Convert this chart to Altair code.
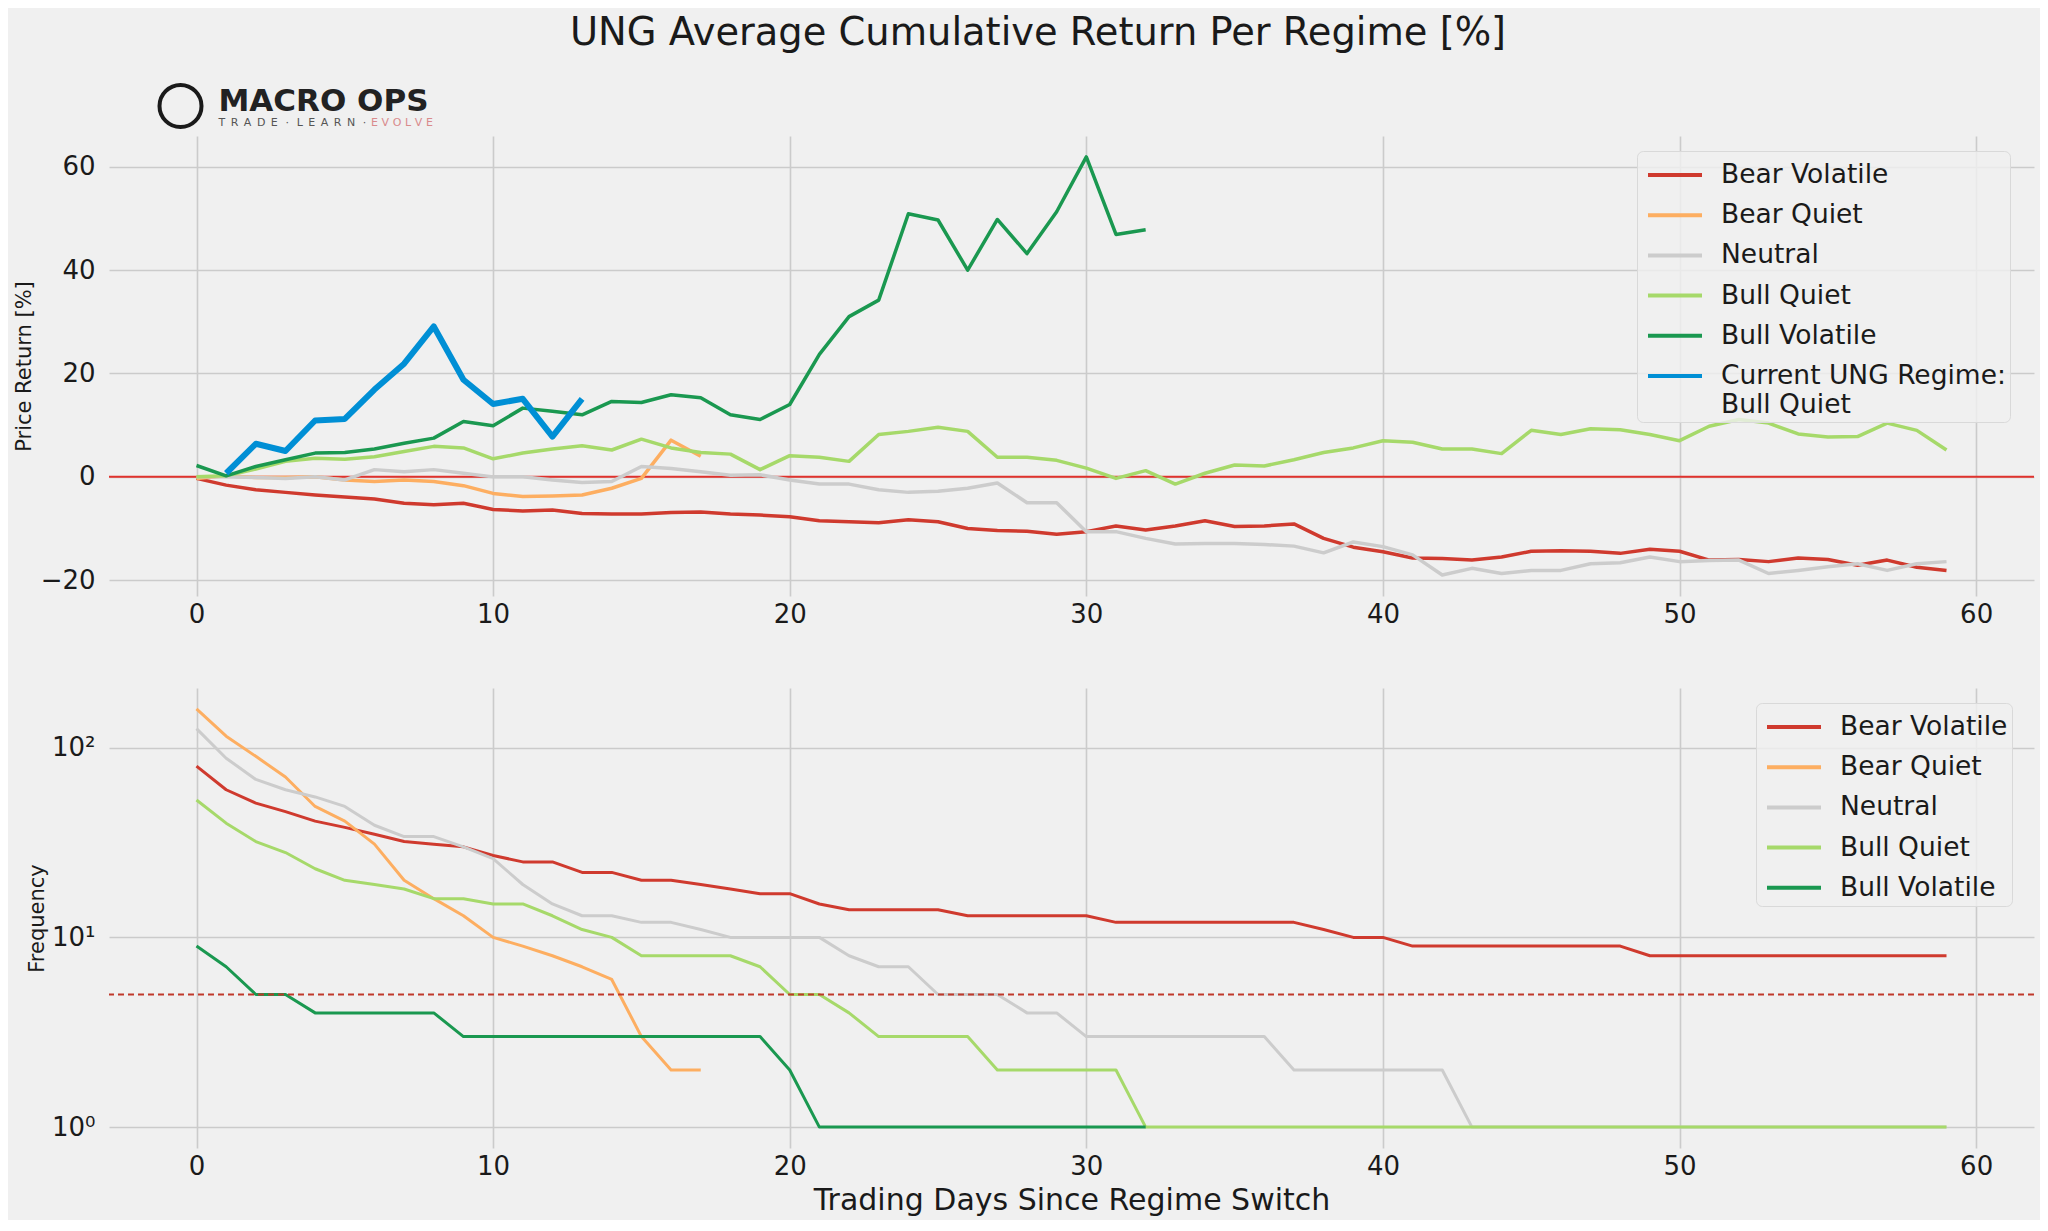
import altair as alt
import pandas as pd

# ---------------- data ----------------
REGIMES = ["Bear Volatile", "Bear Quiet", "Neutral", "Bull Quiet", "Bull Volatile"]
CURRENT = "Current UNG Regime: Bull Quiet"
REGIME_COLORS = ["#cf3a2e", "#fdae61", "#cccccc", "#a6d96a", "#1a9850"]
CURRENT_COLOR = "#008fd5"

x_ticks = [0, 10, 20, 30, 40, 50, 60]
ret_ticks = [-20, 0, 20, 40, 60]
freq_ticks = [1, 10, 100]

bear_vol_ret = [-0.3, -1.6, -2.5, -3.0, -3.5, -3.9, -4.3, -5.1, -5.4, -5.1,
                -6.3, -6.6, -6.4, -7.1, -7.2, -7.2, -6.9, -6.8, -7.2, -7.4,
                -7.7, -8.5, -8.7, -8.9, -8.3, -8.7, -10.0, -10.4, -10.5, -11.1,
                -10.6, -9.5, -10.3, -9.5, -8.5, -9.6, -9.5, -9.1, -11.9, -13.6,
                -14.5, -15.7, -15.8, -16.1, -15.5, -14.4, -14.3, -14.4, -14.8, -14.0,
                -14.4, -16.1, -16.0, -16.4, -15.7, -16.0, -17.1, -16.1, -17.5, -18.1]
bear_quiet_ret = [-0.3, 0.2, -0.1, -0.1, 0.0, -0.6, -0.9, -0.6, -0.9, -1.7,
                  -3.2, -3.8, -3.7, -3.5, -2.2, -0.3, 7.1, 4.0]
neutral_ret = [0.0, 0.0, -0.1, -0.3, 0.0, -0.6, 1.4, 1.0, 1.4, 0.7,
               0.0, 0.0, -0.6, -1.1, -0.9, 2.0, 1.6, 1.0, 0.3, 0.4,
               -0.6, -1.4, -1.4, -2.5, -3.0, -2.8, -2.2, -1.2, -5.0, -5.0,
               -10.6, -10.6, -11.9, -13.0, -12.9, -12.9, -13.1, -13.4, -14.7, -12.6,
               -13.5, -15.1, -19.0, -17.7, -18.7, -18.1, -18.1, -16.8, -16.6, -15.5,
               -16.4, -16.2, -16.1, -18.7, -18.1, -17.4, -16.8, -18.1, -16.8, -16.4]
bull_quiet_ret = [0.0, 0.2, 1.5, 3.0, 3.6, 3.4, 3.9, 4.9, 5.9, 5.6,
                  3.5, 4.6, 5.4, 6.0, 5.2, 7.3, 5.6, 4.7, 4.4, 1.4,
                  4.1, 3.8, 3.0, 8.2, 8.8, 9.6, 8.8, 3.8, 3.8, 3.2,
                  1.7, -0.3, 1.2, -1.4, 0.7, 2.3, 2.1, 3.3, 4.7, 5.6,
                  7.0, 6.7, 5.4, 5.4, 4.5, 9.0, 8.2, 9.3, 9.1, 8.2,
                  7.0, 9.8, 11.1, 10.4, 8.3, 7.7, 7.8, 10.4, 9.0, 5.2]
bull_vol_ret = [2.2, 0.2, 2.0, 3.3, 4.6, 4.7, 5.4, 6.5, 7.5, 10.7,
                9.9, 13.3, 12.7, 12.0, 14.6, 14.4, 15.9, 15.3, 12.0, 11.1,
                14.0, 23.7, 31.0, 34.2, 50.9, 49.7, 40.0, 49.8, 43.2, 51.3,
                61.9, 46.9, 47.8]
current_days = list(range(1, 14))
current_ret = [0.7, 6.4, 5.0, 10.9, 11.2, 16.9, 21.9, 29.1, 18.8, 14.1, 15.1, 7.8, 15.1]

bear_vol_freq = [80, 60, 51, 46, 41, 38, 35, 32, 31, 30,
                 27, 25, 25, 22, 22, 20, 20, 19, 18, 17,
                 17, 15, 14, 14, 14, 14, 13, 13, 13, 13,
                 13, 12, 12, 12, 12, 12, 12, 12, 11, 10,
                 10, 9, 9, 9, 9, 9, 9, 9, 9, 8,
                 8, 8, 8, 8, 8, 8, 8, 8, 8, 8]
bear_quiet_freq = [160, 115, 90, 70, 49, 41, 31, 20, 16, 13, 10, 9, 8, 7, 6, 3, 2, 2]
neutral_freq = [126, 88, 68, 60, 55, 49, 39, 34, 34, 30,
                26, 19, 15, 13, 13, 12, 12, 11, 10, 10,
                10, 10, 8, 7, 7, 5, 5, 5, 4, 4,
                3, 3, 3, 3, 3, 3, 3, 2, 2, 2,
                2, 2, 2, 1, 1, 1, 1, 1, 1, 1,
                1, 1, 1, 1, 1, 1, 1, 1, 1, 1]
bull_quiet_freq = [53, 40, 32, 28, 23, 20, 19, 18, 16, 16,
                   15, 15, 13, 11, 10, 8, 8, 8, 8, 7,
                   5, 5, 4, 3, 3, 3, 3, 2, 2, 2,
                   2, 2, 1, 1, 1, 1, 1, 1, 1, 1,
                   1, 1, 1, 1, 1, 1, 1, 1, 1, 1,
                   1, 1, 1, 1, 1, 1, 1, 1, 1, 1]
bull_vol_freq = [9, 7, 5, 5, 4, 4, 4, 4, 4, 3,
                 3, 3, 3, 3, 3, 3, 3, 3, 3, 3,
                 2, 1, 1, 1, 1, 1, 1, 1, 1, 1,
                 1, 1, 1]

ret_series = [bear_vol_ret, bear_quiet_ret, neutral_ret, bull_quiet_ret, bull_vol_ret]
freq_series = [bear_vol_freq, bear_quiet_freq, neutral_freq, bull_quiet_freq, bull_vol_freq]


def long_table(series_list):
    rows = []
    for order, (name, vals) in enumerate(zip(REGIMES, series_list)):
        for d, v in enumerate(vals):
            rows.append({"day": d, "value": v, "series": name, "order": order})
    return pd.DataFrame(rows)


ret_df = long_table(ret_series)
freq_df = long_table(freq_series)
cur_df = pd.DataFrame({"day": current_days, "value": current_ret, "series": CURRENT})

# ---------------- styling ----------------
FONT = "DejaVu Sans"
BG = "#f0f0f0"
W, H = 1925, 460
EN = "\u2002"
TH = "\u2009"
T3 = "\u2004"
TAG_LEFT = EN.join("TRADE") + EN + TH + "·" + TH + EN + EN.join("LEARN") + EN + TH + "·"
TAG_RIGHT = T3.join("EVOLVE")

legend_common = dict(
    orient="none", title=None, labelFont=FONT, labelFontSize=26.5, labelColor="#1a1a1a",
    symbolType="M-1.5,0H1.5", symbolSize=1296, symbolStrokeWidth=4,
    padding=4, symbolOffset=14, labelOffset=26, rowPadding=6.2, labelLimit=600,
    fillColor="rgba(240,240,240,0.8)", strokeColor="#d9d9d9", cornerRadius=6,
)

x_scale = alt.Scale(domain=[-2.95, 61.95], nice=False, zero=False)

# ---------------- top panel ----------------
x_top = alt.X("day:Q", scale=x_scale,
              axis=alt.Axis(values=x_ticks, title=None, labelPadding=5))
y_top = alt.Y("value:Q", scale=alt.Scale(domain=[-23.05, 65.95], nice=False, zero=False),
              axis=alt.Axis(values=ret_ticks, title="Price Return [%]", labelPadding=14,
                            titleX=-85, titleY=H / 2, titleAngle=270, titleBaseline="middle",
                            titleFontSize=21, titleFontWeight="normal"))
color_top = alt.Color(
    "series:N",
    scale=alt.Scale(domain=REGIMES + [CURRENT], range=REGIME_COLORS + [CURRENT_COLOR]),
    legend=alt.Legend(
        legendX=1528, legendY=15,
        labelExpr="datum.label == 'Current UNG Regime: Bull Quiet' ? ['Current UNG Regime:', 'Bull Quiet'] : datum.label",
        **legend_common),
)

zero_rule = alt.Chart(pd.DataFrame({"value": [0]})).mark_rule(
    color="#e0322d", strokeWidth=2).encode(y=alt.Y("value:Q"))

ret_lines = alt.Chart(ret_df).mark_line(strokeWidth=3.5, strokeJoin="round").encode(
    x=x_top, y=y_top, color=color_top, order="day:Q")

cur_line = alt.Chart(cur_df).mark_line(strokeWidth=6, strokeJoin="round").encode(
    x=x_top, y=y_top, color=color_top)

logo_ring = alt.Chart(pd.DataFrame({"k": [0]})).mark_point(
    shape="circle", filled=False, size=1764, stroke="#1a1a1a", strokeWidth=4, opacity=1
).encode(x=alt.value(71.5), y=alt.value(-30))
logo_name = alt.Chart(pd.DataFrame({"t": ["MACRO OPS"]})).mark_text(
    font=FONT, fontSize=31, fontWeight="bold", align="left", baseline="alphabetic", color="#222222"
).encode(text="t:N", x=alt.value(109.5), y=alt.value(-25))
logo_tag = alt.Chart(pd.DataFrame({"t": [TAG_LEFT]})).mark_text(
    font=FONT, fontSize=11, align="left", baseline="alphabetic", color="#555555"
).encode(text="t:N", x=alt.value(109.5), y=alt.value(-10))
logo_evolve = alt.Chart(pd.DataFrame({"t": [TAG_RIGHT]})).mark_text(
    font=FONT, fontSize=11, align="left", baseline="alphabetic", color="#d98a8c"
).encode(text="t:N", x=alt.value(262), y=alt.value(-10))

top = alt.layer(zero_rule, ret_lines, cur_line, logo_ring, logo_name, logo_tag, logo_evolve).properties(
    width=W, height=H)

# ---------------- bottom panel ----------------
x_bot = alt.X("day:Q", scale=x_scale,
              axis=alt.Axis(values=x_ticks, title="Trading Days Since Regime Switch",
                            labelPadding=5, titlePadding=6, titleFontSize=30,
                            titleFontWeight="normal"))
y_bot = alt.Y("value:Q", scale=alt.Scale(type="log", domain=[0.776, 206.3], nice=False),
              axis=alt.Axis(values=freq_ticks, title="Frequency", labelPadding=14,
                            labelExpr="datum.value == 1 ? '10⁰' : (datum.value == 10 ? '10¹' : '10²')",
                            titleX=-72, titleY=H / 2, titleAngle=270, titleBaseline="middle",
                            titleFontSize=21, titleFontWeight="normal"))
color_bot = alt.Color(
    "series:N",
    scale=alt.Scale(domain=REGIMES, range=REGIME_COLORS),
    legend=alt.Legend(legendX=1647, legendY=15, **legend_common),
)

freq_lines = alt.Chart(freq_df).mark_line(strokeWidth=3, strokeJoin="round").encode(
    x=x_bot, y=y_bot, color=color_bot, order="day:Q")

five_rule = alt.Chart(pd.DataFrame({"value": [5]})).mark_rule(
    color="#c0392b", strokeWidth=1.8, strokeDash=[6, 4]).encode(y=alt.Y("value:Q"))

bottom = alt.layer(freq_lines, five_rule).properties(width=W, height=H)

chart = alt.vconcat(
    top, bottom, spacing=61,
    title=alt.TitleParams("UNG Average Cumulative Return Per Regime [%]", font=FONT, fontSize=38.4,
                          fontWeight="normal", color="#1a1a1a", anchor="middle", offset=24, dx=14),
).resolve_scale(color="independent").configure(
    background=BG, font=FONT,
).configure_view(stroke=None).configure_axis(
    gridColor="#cbcbcb", gridWidth=1.6, domain=False, ticks=False,
    labelFont=FONT, labelFontSize=26, labelColor="#1a1a1a",
    titleFont=FONT, titleColor="#1a1a1a",
)

chart.save("out.html", embed_options={"renderer": "svg", "actions": False})
